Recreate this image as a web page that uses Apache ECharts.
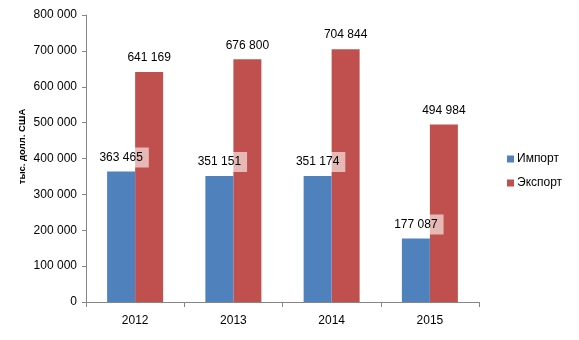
<!DOCTYPE html>
<html><head><meta charset="utf-8">
<script src="https://cdn.jsdelivr.net/npm/echarts@6/dist/echarts.min.js"></script>
<style>html,body{margin:0;padding:0;background:#fff}#c{width:579px;height:340px}</style>
</head><body><div id="c"></div>
<script>
const categories = ['2012', '2013', '2014', '2015'];
const importValues = [363465, 351151, 351174, 177087];
const exportValues = [641169, 676800, 704844, 494984];
const seriesNames = ['Импорт', 'Экспорт'];
const yAxisName = 'тыс. долл. США';

const fmt = v => String(v).replace(/\B(?=(\d{3})+(?!\d))/g, ' ');
const font = 'Liberation Sans';
const labelStyle = {
  show: true, position: 'top', distance: 4,
  formatter: p => fmt(p.value),
  color: '#000', fontFamily: font, fontSize: 12,
  backgroundColor: 'rgba(255,255,255,0.6)', padding: [4, 6, 4, 6]
};
const chart = echarts.init(document.getElementById('c'), null, {renderer: 'canvas'});
chart.setOption({
  animation: false,
  grid: {left: 86, right: 100, top: 15, bottom: 38},
  legend: {
    orient: 'vertical', left: 502, top: 148, itemWidth: 7, itemHeight: 7, itemGap: 12,
    icon: 'rect', textStyle: {fontFamily: font, fontSize: 12, color: '#000', padding: [0,0,0,-2]},
    data: seriesNames
  },
  xAxis: {
    type: 'category', data: categories,
    axisLine: {lineStyle: {color: '#868686'}},
    axisTick: {show: true, length: 5, lineStyle: {color: '#868686'}},
    axisLabel: {color: '#000', fontFamily: font, fontSize: 12, margin: 13}
  },
  yAxis: {
    type: 'value', min: 0, max: 800000, interval: 100000,
    name: yAxisName, nameLocation: 'middle', nameGap: 59, nameMoveOverlap: false,
    nameTextStyle: {fontFamily: font, fontSize: 9.5, fontWeight: 'bold', color: '#000', padding: [0,0,0,24]},
    axisLine: {show: true, lineStyle: {color: '#868686'}},
    axisTick: {show: true, length: 4, lineStyle: {color: '#868686'}},
    splitLine: {show: false},
    axisLabel: {color: '#000', fontFamily: font, fontSize: 12, margin: 9, formatter: v => fmt(v)}
  },
  series: [
    {name: seriesNames[0], type: 'bar', data: importValues, barWidth: 28, barGap: '0%',
     itemStyle: {color: '#4F81BD'}, label: labelStyle, z: 3},
    {name: seriesNames[1], type: 'bar', data: exportValues, barWidth: 28, barGap: '0%',
     itemStyle: {color: '#C0504D'}, label: labelStyle, z: 2}
  ]
});
</script></body></html>
